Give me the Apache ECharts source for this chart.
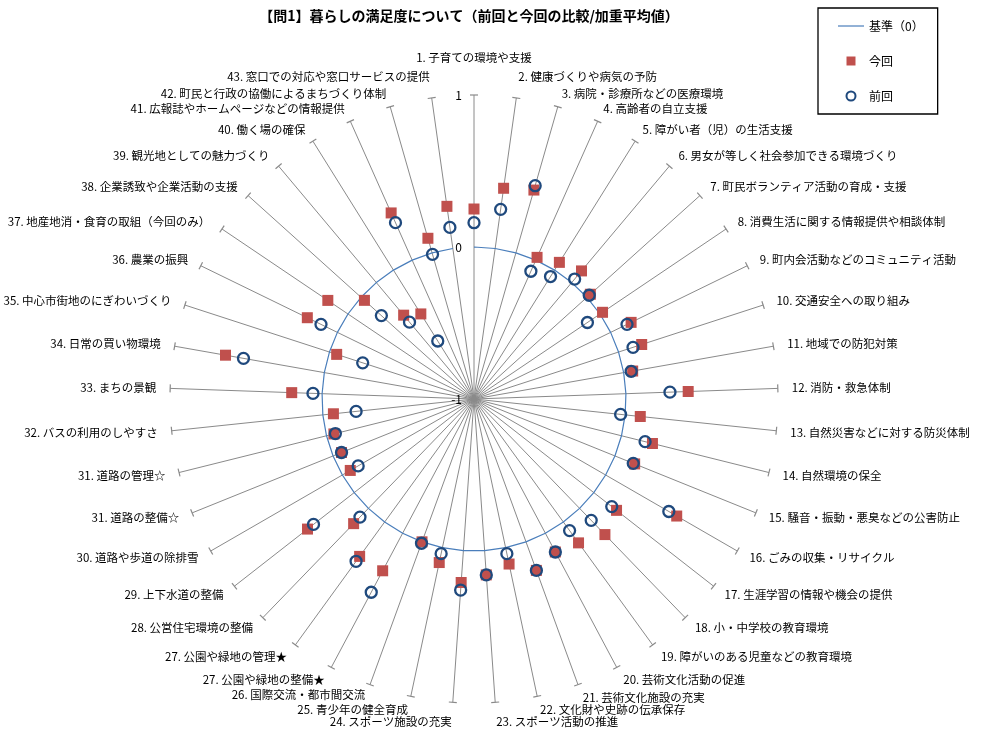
<!DOCTYPE html>
<html>
<head>
<meta charset="utf-8">
<script src="https://cdn.jsdelivr.net/npm/echarts@6/dist/echarts.min.js"></script>
<style>
  html, body { margin: 0; padding: 0; background: #ffffff; }
  #chart { width: 981px; height: 730px; }
</style>
</head>
<body>
<div id="chart"></div>
<script>
// Survey items, clockwise from the top
const categories = [
  '1. 子育ての環境や支援',
  '2. 健康づくりや病気の予防',
  '3. 病院・診療所などの医療環境',
  '4. 高齢者の自立支援',
  '5. 障がい者（児）の生活支援',
  '6. 男女が等しく社会参加できる環境づくり',
  '7. 町民ボランティア活動の育成・支援',
  '8. 消費生活に関する情報提供や相談体制',
  '9. 町内会活動などのコミュニティ活動',
  '10. 交通安全への取り組み',
  '11. 地域での防犯対策',
  '12. 消防・救急体制',
  '13. 自然災害などに対する防災体制',
  '14. 自然環境の保全',
  '15. 騒音・振動・悪臭などの公害防止',
  '16. ごみの収集・リサイクル',
  '17. 生涯学習の情報や機会の提供',
  '18. 小・中学校の教育環境',
  '19. 障がいのある児童などの教育環境',
  '20. 芸術文化活動の促進',
  '21. 芸術文化施設の充実',
  '22. 文化財や史跡の伝承保存',
  '23. スポーツ活動の推進',
  '24. スポーツ施設の充実',
  '25. 青少年の健全育成',
  '26. 国際交流・都市間交流',
  '27. 公園や緑地の整備★',
  '27. 公園や緑地の管理★',
  '28. 公営住宅環境の整備',
  '29. 上下水道の整備',
  '30. 道路や歩道の除排雪',
  '31. 道路の整備☆',
  '31. 道路の管理☆',
  '32. バスの利用のしやすさ',
  '33. まちの景観',
  '34. 日常の買い物環境',
  '35. 中心市街地のにぎわいづくり',
  '36. 農業の振興',
  '37. 地産地消・食育の取組（今回のみ）',
  '38. 企業誘致や企業活動の支援',
  '39. 観光地としての魅力づくり',
  '40. 働く場の確保',
  '41. 広報誌やホームページなどの情報提供',
  '42. 町民と行政の協働によるまちづくり体制',
  '43. 窓口での対応や窓口サービスの提供'
];

// Weighted average satisfaction, this survey (今回)
const currentValues = [
  0.25, 0.40, 0.43, 0.02, 0.06, 0.10, 0.03, 0.02, 0.15, 0.16,
  0.06, 0.41, 0.10, 0.21, 0.14, 0.54, 0.19, 0.24, 0.17, 0.14,
  0.20, 0.11, 0.16, 0.21, 0.10, 0.00, 0.28, 0.28, 0.14, 0.39,
  -0.06, -0.06, -0.05, -0.07, 0.20, 0.66, -0.05, 0.22, 0.16, -0.03,
  -0.28, -0.34, 0.34, 0.10, 0.28
];

// Weighted average satisfaction, previous survey (前回); item 37 was new this time
const previousValues = [
  0.16, 0.26, 0.46, -0.08, -0.05, 0.03, 0.02, -0.10, 0.12, 0.10,
  0.05, 0.29, -0.03, 0.16, 0.13, 0.48, 0.15, 0.11, 0.07, 0.14,
  0.20, 0.04, 0.16, 0.26, 0.04, 0.01, 0.44, 0.32, 0.08, 0.34,
  -0.12, -0.06, -0.06, -0.22, 0.06, 0.54, -0.23, 0.12, null, -0.18,
  -0.34, -0.55, 0.27, -0.01, 0.14
];

// Reference level and value scale
const baselineValue = 0;
const scaleMin = -1;
const scaleMax = 1;
const scaleStep = 1;

const seriesNames = ['基準（0）', '今回', '前回'];
const titleText = '【問1】暮らしの満足度について（前回と今回の比較/加重平均値）';

const FONT = '"Noto Sans CJK JP", "Noto Sans", sans-serif';
const STEP = 360 / categories.length;
const BLUE_LINE = '#4A7EBB';
const RED = '#C0504D';
const NAVY = '#1F497D';
const SPOKE = '#8a8a8a';

// Extra shifts for the item names crowded near the top and bottom
const nameShift = { 0: [0, -23], 1: [0, -7], 44: [0, -7], 22: [0, 5], 23: [0, 5], 25: [0, -3] };

function nameLabel(i) {
  const a = (90 - STEP * i) * Math.PI / 180;
  const c = Math.cos(a), s = Math.sin(a);
  const gap = 14;
  const shift = nameShift[i] || [0, 0];
  return {
    align: Math.abs(c) < 0.05 ? 'center' : (c > 0 ? 'left' : 'right'),
    verticalAlign: 'middle',
    offset: [gap * c + shift[0], -gap * s + shift[1]]
  };
}

const baselinePath = categories.map((_, i) => [baselineValue, i]).concat([[baselineValue, 0]]);
const spokeEnds = categories.map((name, i) => ({
  value: [scaleMax, i],
  symbolRotate: -STEP * i,
  label: nameLabel(i)
}));
const toPoints = vals => vals
  .map((v, i) => (v == null ? null : [v, i]))
  .filter(p => p !== null);

const chart = echarts.init(document.getElementById('chart'), null, { renderer: 'canvas' });

chart.setOption({
  animation: false,
  backgroundColor: '#ffffff',
  textStyle: { fontFamily: FONT },
  title: {
    text: titleText,
    left: 469,
    top: 9,
    padding: 0,
    textAlign: 'center',
    textStyle: { fontFamily: FONT, fontSize: 14, fontWeight: 'bold', color: '#000000' }
  },
  legend: {
    orient: 'vertical',
    left: 818,
    top: 8,
    data: [
      { name: seriesNames[0], icon: 'path://M0,0H26V1.2H0Z' },
      { name: seriesNames[1], icon: 'path://M0,0H1V1H0Z' },
      { name: seriesNames[2], icon: 'circle' }
    ],
    itemWidth: 26,
    itemHeight: 9,
    itemGap: 23,
    padding: [12, 14, 12, 20],
    borderColor: '#000000',
    borderWidth: 1.3,
    selectedMode: false,
    textStyle: { fontFamily: FONT, fontSize: 12, color: '#000000' }
  },
  polar: { center: [474, 399], radius: 304 },
  angleAxis: {
    type: 'category',
    data: categories,
    startAngle: 90,
    clockwise: true,
    boundaryGap: false,
    axisLine: { show: false },
    axisTick: { show: false, interval: 0 },
    axisLabel: { show: false, interval: 0 },
    splitLine: { show: true, interval: 0, lineStyle: { color: SPOKE, width: 1 } }
  },
  radiusAxis: {
    min: scaleMin,
    max: scaleMax,
    interval: scaleStep,
    axisLine: { show: false },
    axisTick: { show: false },
    splitLine: { show: false },
    axisLabel: { show: true, margin: 12, color: '#000000', fontSize: 12, fontFamily: FONT }
  },
  series: [
    {
      name: seriesNames[0],
      type: 'line',
      coordinateSystem: 'polar',
      data: baselinePath,
      symbol: 'none',
      lineStyle: { color: BLUE_LINE, width: 1.2 },
      itemStyle: { color: BLUE_LINE },
      silent: true,
      z: 2
    },
    {
      name: 'spoke-ends',
      type: 'scatter',
      coordinateSystem: 'polar',
      data: spokeEnds,
      symbol: 'rect',
      symbolSize: [8, 1.2],
      itemStyle: { color: SPOKE, opacity: 1 },
      label: {
        show: true,
        position: 'inside',
        formatter: p => categories[p.dataIndex],
        color: '#000000',
        fontSize: 11.5,
        fontFamily: FONT
      },
      silent: true,
      z: 2
    },
    {
      name: seriesNames[1],
      type: 'scatter',
      coordinateSystem: 'polar',
      data: toPoints(currentValues),
      symbol: 'rect',
      symbolSize: 11,
      itemStyle: { color: RED, opacity: 1 },
      z: 3
    },
    {
      name: seriesNames[2],
      type: 'scatter',
      coordinateSystem: 'polar',
      data: toPoints(previousValues),
      symbol: 'circle',
      symbolSize: 11,
      itemStyle: { color: 'rgba(0,0,0,0)', borderColor: NAVY, borderWidth: 2.3, opacity: 1 },
      z: 4
    }
  ]
});
</script>
</body>
</html>
